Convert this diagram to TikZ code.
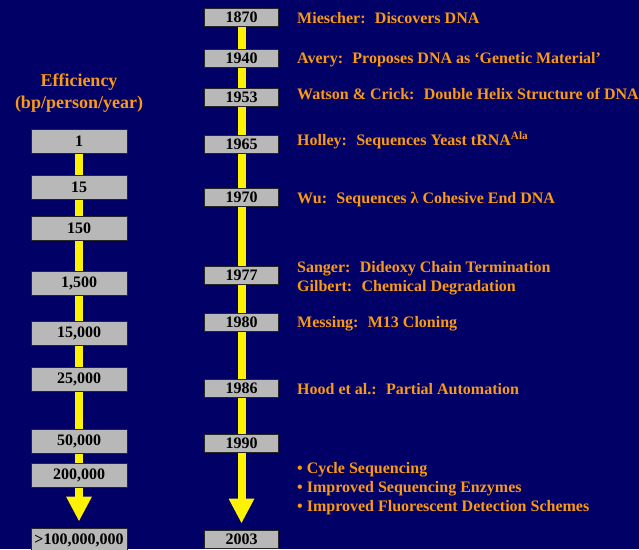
\documentclass[tikz,border=0pt]{standalone}
\usepackage{fontspec}
\setmainfont{Liberation Serif}
\usetikzlibrary{arrows.meta,positioning}
\definecolor{navy}{RGB}{0,0,102}
\definecolor{boxgray}{RGB}{184,184,184}
\definecolor{evorange}{RGB}{250,153,20}
\tikzset{
  every picture/.style={font=\bfseries\fontsize{16}{19}\selectfont},
  effbox/.style={draw=black!85,line width=1pt,fill=boxgray,minimum width=96pt,minimum height=24pt,inner sep=0pt},
  yearbox/.style={draw=black!85,line width=1pt,fill=boxgray,minimum width=74pt,minimum height=18pt,inner sep=0pt},
  yline/.style={yellow,line width=8pt},
  yarrow/.style={yline,shorten >=6pt,-{Triangle[width=24pt,length=25pt]}},
  event/.style={text=evorange,anchor=west,align=left,inner sep=0pt},
}

\begin{document}
\begin{tikzpicture}[x=1pt,y=-1pt]
  \fill[navy] (0,0) rectangle (639,549);
  \useasboundingbox (0,0) rectangle (639,549);
  \node[text=evorange,align=center,font=\bfseries\fontsize{18}{22}\selectfont] (effhead) at (79,93)
    {Efficiency\\(bp/person/year)};
  \foreach \v/\y [count=\i] in {1/141.5,15/187,150/228,1{,}500/283,15{,}000/333.5,
      25{,}000/379,50{,}000/441,200{,}000/475,>100{,}000{,}000/540}{
    \node[effbox] (e\i) at (79,\y) {\v};
  }
  \foreach \i [count=\j from 2] in {1,...,7}{
    \draw[yline] (e\i) -- (e\j);
  }
  \draw[yarrow] (e8) -- (e9);
  \foreach \v/\y [count=\i] in {1870/17,1940/58,1953/97,1965/144,1970/197,
      1977/275.5,1980/322,1986/388,1990/443,2003/539}{
    \node[yearbox] (y\i) at (241.5,\y) {\v};
  }
  \foreach \i [count=\j from 2] in {1,...,8}{
    \draw[yline] (y\i) -- (y\j);
  }
  \draw[yarrow] (y9) -- (y10);
  \node[event] (miescher) at (297,18.5) {Miescher:~ Discovers DNA};
  \node[event] (avery) at (297,59.5) {Avery:~ Proposes DNA as `Genetic Material'};
  \node[event] (watson) at (297,93.5) {Watson \& Crick:~ Double Helix Structure of DNA};
  \node[event] (holley) at (297,140.5) {Holley:~ Sequences Yeast tRNA\textsuperscript{Ala}};
  \node[event] (wu) at (297,199.5) {Wu:~ Sequences λ Cohesive End DNA};
  \node[event] (sanger) at (297,278.5) {Sanger:~ Dideoxy Chain Termination\\Gilbert:~ Chemical Degradation};
  \node[event] (messing) at (297,323.5) {Messing:~ M13 Cloning};
  \node[event] (hood) at (297,389.5) {Hood et al.:~ Partial Automation};
  \node[event] (recent) at (297,489) {\textbullet\ Cycle Sequencing\\\textbullet\ Improved Sequencing Enzymes\\\textbullet\ Improved Fluorescent Detection Schemes};
\end{tikzpicture}
\end{document}
